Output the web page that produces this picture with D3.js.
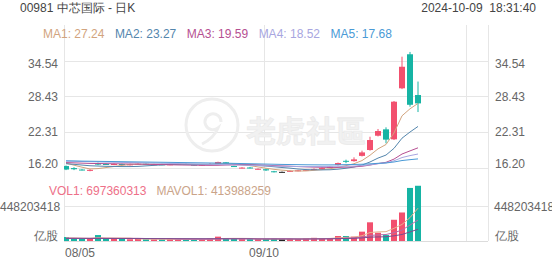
<!DOCTYPE html>
<meta charset="utf-8">
<style>
body { margin: 0; background: #fff; }
svg { display: block; font-family: "Liberation Sans", Arial, sans-serif; }
</style>
<body>
<svg id="kline" width="552" height="265"></svg>
<script src="https://cdn.jsdelivr.net/npm/d3@7/dist/d3.min.js"></script>
<script>

// trading days shown (00981 daily)
var dates = ["08/06","08/07","08/08","08/09","08/12","08/13","08/14","08/15","08/16","08/19",
  "08/20","08/21","08/22","08/23","08/26","08/27","08/28","08/29","08/30","09/02",
  "09/03","09/04","09/05","09/06","09/09","09/10","09/11","09/12","09/13","09/16",
  "09/17","09/19","09/20","09/23","09/24","09/25","09/26","09/27","09/30","10/02",
  "10/03","10/04","10/07","10/08","10/09"];

var open  = [16.45,16.10,15.85,15.62,16.95,16.80,16.70,16.80,16.65,16.75,16.85,16.70,16.75,16.65,16.75,16.80,16.70,16.60,16.70,16.80,17.10,16.45,16.10,16.20,15.90,15.90,15.55,15.45,15.50,15.62,15.70,15.80,15.95,16.15,16.63,17.35,17.30,18.20,19.21,21.67,22.77,21.05,29.84,35.70,28.68];
var close = [15.85,15.90,15.80,15.80,16.70,16.75,16.80,16.70,16.75,16.85,16.75,16.75,16.70,16.75,16.80,16.70,16.65,16.70,16.80,17.15,16.85,16.38,16.18,16.10,15.98,15.70,15.45,15.45,15.62,15.72,15.80,15.95,16.10,16.35,16.97,17.25,17.60,18.80,20.93,22.48,21.00,27.53,33.55,27.00,27.24];
var high  = [16.55,16.25,15.92,15.92,17.05,16.90,16.90,16.85,16.85,16.95,16.95,16.85,16.85,16.85,16.90,16.90,16.80,16.80,16.95,17.20,17.15,16.50,16.25,16.30,16.05,16.05,15.62,15.50,15.70,15.80,15.88,16.05,16.20,16.45,17.05,17.55,17.95,19.10,21.50,22.83,23.12,27.65,35.28,36.10,31.00];
var low   = [15.75,15.75,15.70,15.55,16.60,16.65,16.60,16.60,16.55,16.65,16.70,16.60,16.60,16.60,16.65,16.65,16.55,16.50,16.65,16.75,16.80,16.30,16.05,16.05,15.85,15.60,15.35,15.40,15.45,15.55,15.65,15.75,15.90,16.10,16.55,16.95,17.20,18.10,19.10,21.55,20.36,20.93,29.70,26.67,25.75];

var volume = [50e6,30e6,25e6,28e6,75e6,30e6,28e6,25e6,22e6,25e6,22e6,20e6,20e6,22e6,20e6,22e6,20e6,22e6,28e6,55e6,35e6,25e6,22e6,22e6,22e6,25e6,28e6,22e6,25e6,25e6,30e6,40e6,30e6,35e6,63e6,63e6,55e6,118e6,236e6,105e6,75e6,268e6,360e6,670e6,697360313];

// moving averages as drawn
var ma1 = [16.95,16.60,16.25,15.95,16.01,16.19,16.37,16.55,16.74,16.77,16.77,16.76,16.76,16.76,16.75,16.74,16.72,16.72,16.73,16.80,16.83,16.78,16.67,16.53,16.30,16.07,15.88,15.74,15.64,15.59,15.61,15.71,15.84,15.98,16.23,16.52,16.85,17.39,18.31,19.41,20.16,22.15,25.10,26.31,27.24];
var ma2 = [16.85,16.75,16.62,16.50,16.45,16.40,16.38,16.36,16.36,16.39,16.48,16.57,16.66,16.75,16.76,16.76,16.74,16.74,16.75,16.78,16.79,16.75,16.70,16.63,16.55,16.45,16.33,16.20,16.09,15.94,15.84,15.80,15.79,15.81,15.91,16.07,16.28,16.62,17.15,17.82,18.34,19.50,21.25,22.31,23.27];
var ma3 = [17.05,17.00,16.95,16.90,16.88,16.86,16.84,16.82,16.80,16.78,16.76,16.73,16.70,16.67,16.64,16.62,16.60,16.58,16.57,16.58,16.63,16.66,16.68,16.69,16.65,16.60,16.53,16.47,16.42,16.36,16.31,16.27,16.24,16.22,16.23,16.26,16.31,16.41,16.62,16.88,17.09,17.65,18.52,19.06,19.59];
var ma4 = [17.30,17.27,17.23,17.20,17.17,17.13,17.10,17.08,17.05,17.02,16.99,16.96,16.93,16.90,16.87,16.84,16.81,16.78,16.75,16.72,16.69,16.65,16.61,16.57,16.53,16.49,16.45,16.42,16.39,16.37,16.37,16.37,16.38,16.40,16.41,16.42,16.45,16.52,16.66,16.85,16.99,17.35,17.91,18.25,18.52];
var ma5 = [17.35,17.33,17.30,17.28,17.26,17.24,17.22,17.20,17.18,17.16,17.14,17.12,17.10,17.08,17.06,17.04,17.02,17.00,16.98,16.96,16.94,16.91,16.88,16.85,16.82,16.79,16.76,16.73,16.71,16.69,16.67,16.66,16.65,16.65,16.67,16.69,16.72,16.76,16.83,16.92,16.98,17.15,17.40,17.55,17.68];

var mavol1 = [40e6,38e6,35e6,33e6,41.6e6,37.6e6,37.2e6,37.2e6,36e6,26e6,24.4e6,22.8e6,21.8e6,21.8e6,20.8e6,20.8e6,20.8e6,21.2e6,22.4e6,29.4e6,32e6,33e6,33e6,31.8e6,25.2e6,23.2e6,23.8e6,23.8e6,24.4e6,25e6,26e6,28.4e6,30e6,32e6,39.6e6,46.2e6,49.2e6,66.8e6,107e6,115.4e6,117.8e6,160.4e6,208.8e6,295.6e6,413988259];
var mavol2 = [35e6,35e6,34e6,34e6,35e6,35e6,34e6,34e6,34e6,33.8e6,31e6,30e6,29.5e6,28.9e6,23.4e6,22.6e6,21.8e6,21.5e6,22.1e6,25.1e6,26.4e6,26.9e6,27.1e6,27.1e6,27.3e6,27.6e6,28.4e6,28.4e6,28.1e6,25.1e6,24.6e6,26.1e6,26.9e6,28.2e6,32.3e6,36.1e6,38.8e6,48.4e6,69.5e6,77.5e6,82e6,104.8e6,137.8e6,201.3e6,264.7e6];
var mavol3 = [33e6,33e6,33e6,32.5e6,32.5e6,32e6,32e6,31.5e6,31.5e6,31e6,31e6,30.5e6,30.5e6,30e6,30e6,29.8e6,29.6e6,29.5e6,29.4e6,29.45e6,28.7e6,28.45e6,28.3e6,28e6,25.35e6,25.1e6,25.1e6,24.95e6,25.1e6,25.1e6,25.5e6,26.5e6,27e6,27.65e6,29.8e6,31.85e6,33.6e6,38.4e6,48.8e6,51.3e6,53.3e6,65.45e6,82.35e6,114.75e6,148.5e6];

var maNames = ["MA1","MA2","MA3","MA4","MA5"];
var maLast = ["27.24","23.27","19.59","18.52","17.68"];
var maColors = ["#d2a47e","#5486ad","#b64f92","#a8a6e0","#4a9ad6"];
var priceTicks = [16.20, 22.31, 28.43, 34.54];
var volTicks = [448203418];
var dateLabels = ["08/05","09/10"];
var dateSlots = [0, 25];

var up = "#f2506e", down = "#16b4a4";

var svg = d3.select("#kline");
var left = 64, right = 488;

var x = d3.scaleLinear().domain([-0.25, 52.75]).range([left, right]);
var y = d3.scaleLinear().domain([16.20, 34.54]).range([167.5, 61]);
var yv = d3.scaleLinear().domain([0, 448203418]).range([241, 205.5]);

svg.append("defs").append("clipPath").attr("id", "plot")
  .append("rect").attr("x", left).attr("y", 40).attr("width", right - left).attr("height", 202);

// header
svg.append("text").attr("x", 20).attr("y", 12).attr("font-size", 12).attr("fill", "#444")
  .text("00981 中芯国际 - 日K");
svg.append("text").attr("x", 536).attr("y", 12).attr("font-size", 12).attr("fill", "#444")
  .attr("text-anchor", "end").text("2024-10-09\u00a0\u00a018:31:40");

// grid
var grid = svg.append("g").attr("stroke", "#e6e6e6").attr("stroke-width", 1);
[left, x(25) - 2, x(50), right].forEach(function(gx) {
  grid.append("line").attr("x1", Math.round(gx) + 0.5).attr("x2", Math.round(gx) + 0.5)
    .attr("y1", 25).attr("y2", 241);
});
priceTicks.forEach(function(p) {
  grid.append("line").attr("x1", left).attr("x2", right)
    .attr("y1", Math.round(y(p)) + 0.5).attr("y2", Math.round(y(p)) + 0.5);
});
volTicks.forEach(function(v) {
  grid.append("line").attr("x1", left).attr("x2", right)
    .attr("y1", Math.round(yv(v)) + 0.5).attr("y2", Math.round(yv(v)) + 0.5);
});
grid.append("line").attr("x1", left).attr("x2", right).attr("y1", 241.5).attr("y2", 241.5)
  .attr("stroke", "#dcdcdc");

// watermark
var wm = svg.append("g").attr("fill", "none").attr("stroke", "#eeeeee").attr("stroke-width", 3);
wm.append("circle").attr("cx", 212).attr("cy", 125).attr("r", 26);
wm.append("path").attr("d", "M221,122 a8,8 0 1,0 -3,6 q-4,10 -16,16");
svg.append("text").attr("x", 246).attr("y", 142).attr("font-size", 30).attr("font-weight", "bold")
  .attr("fill", "#f1f1f1").attr("stroke", "#e9e9e9").attr("stroke-width", 0.6)
  .attr("font-family", "'Noto Sans CJK TC', 'Noto Sans CJK SC', sans-serif")
  .text("老虎社區");

// axis labels
var lab = svg.append("g").attr("font-size", 12).attr("fill", "#666");
priceTicks.forEach(function(p, i) {
  var off = i === 0 ? -3.5 : (i === priceTicks.length - 1 ? 3 : 0);
  lab.append("text").attr("x", 58).attr("y", y(p) + off).attr("dy", "0.35em")
    .attr("text-anchor", "end").text(p.toFixed(2));
  lab.append("text").attr("x", 495).attr("y", y(p) + off).attr("dy", "0.35em")
    .text(p.toFixed(2));
});
volTicks.forEach(function(v) {
  lab.append("text").attr("x", 0).attr("y", yv(v) + 1.5).attr("dy", "0.35em").text(v);
  lab.append("text").attr("x", 494).attr("y", yv(v) + 1.5).attr("dy", "0.35em").text(v);
});
lab.append("text").attr("x", 58).attr("y", 236).attr("dy", "0.35em").attr("text-anchor", "end").text("亿股");
lab.append("text").attr("x", 495).attr("y", 236).attr("dy", "0.35em").text("亿股");
dateLabels.forEach(function(d, i) {
  var s = dateSlots[i];
  lab.append("text").attr("x", s === 0 ? left + 1 : x(s) - 2).attr("y", 257)
    .attr("text-anchor", s === 0 ? "start" : "middle").text(d);
});

// chart body
var g = svg.append("g").attr("clip-path", "url(#plot)");
var idx = d3.range(dates.length);
function col(i) { return close[i] > open[i] ? up : (close[i] < open[i] ? down : "#222"); }

// volume
g.selectAll(".vol").data(idx).enter().append("rect")
  .attr("x", function(i) { return x(i) - 3; })
  .attr("y", function(i) { return yv(volume[i]); })
  .attr("width", 6)
  .attr("height", function(i) { return Math.max(1, 241 - yv(volume[i])); })
  .attr("fill", function(i) { return col(i); });

[mavol1, mavol2, mavol3].forEach(function(arr, k) {
  g.append("path").datum(idx).attr("fill", "none")
    .attr("stroke", ["#e7b28f", "#b76aa9", "#7d4b90"][k]).attr("stroke-width", 1)
    .attr("d", d3.line().x(function(i) { return x(i); }).y(function(i) { return yv(arr[i]); }));
});

// candles
g.selectAll(".wick").data(idx).enter().append("line")
  .attr("x1", function(i) { return x(i); }).attr("x2", function(i) { return x(i); })
  .attr("y1", function(i) { return y(high[i]); }).attr("y2", function(i) { return y(low[i]); })
  .attr("stroke", function(i) { return col(i); }).attr("stroke-width", 1);
g.selectAll(".body").data(idx).enter().append("rect")
  .attr("x", function(i) { return x(i) - 3; })
  .attr("y", function(i) { return y(Math.max(open[i], close[i])); })
  .attr("width", 6)
  .attr("height", function(i) { return Math.max(1, Math.abs(y(open[i]) - y(close[i]))); })
  .attr("fill", function(i) { return col(i); });

[ma1, ma2, ma3, ma4, ma5].forEach(function(arr, k) {
  g.append("path").datum(idx).attr("fill", "none")
    .attr("stroke", maColors[k]).attr("stroke-width", 1)
    .attr("d", d3.line().x(function(i) { return x(i); }).y(function(i) { return y(arr[i]); }));
});

// MA legend
var lx = 43;
maNames.forEach(function(n, k) {
  var t = svg.append("text").attr("x", lx).attr("y", 38).attr("font-size", 12)
    .attr("fill", maColors[k]).text(n + ": " + maLast[k]);
  lx += t.node().getComputedTextLength() + 10.5;
});

// volume legend
var vt = svg.append("text").attr("x", 49).attr("y", 195).attr("font-size", 12)
  .attr("fill", "#ee7088").text("VOL1: " + volume[volume.length - 1]);
svg.append("text").attr("x", 49 + vt.node().getComputedTextLength() + 10).attr("y", 195)
  .attr("font-size", 12).attr("fill", "#caa489").text("MAVOL1: " + mavol1[mavol1.length - 1]);

</script>
</body>
